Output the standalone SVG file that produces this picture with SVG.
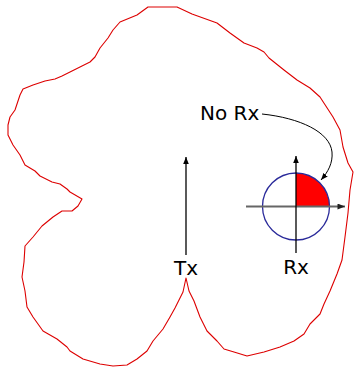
<svg xmlns="http://www.w3.org/2000/svg" width="354" height="367" viewBox="0 0 354 367">
<style>
.lbl{font-family:"DejaVu Sans",sans-serif;font-size:20px;fill:#000}
.reg{fill:none;stroke:#dd0000;stroke-width:1.1;stroke-linejoin:round}
</style>
<defs>
<marker id="ah" viewBox="0 0 10 8" refX="10" refY="4" markerWidth="7" markerHeight="6" markerUnits="userSpaceOnUse" orient="auto"><path d="M0,0 L10,4 L0,8 Z" fill="#000"/></marker>
<marker id="ahg" viewBox="0 0 10 8" refX="10" refY="4" markerWidth="8" markerHeight="6" markerUnits="userSpaceOnUse" orient="auto"><path d="M0,0 L10,4 L0,8 Z" fill="#222"/></marker>
</defs>
<g id="region">
<path class="reg" d="M148,7 L177,7 L192,14 L217,23 L230,33 L244,43 L257,48 L264,52 L269,58 L284,70 L297,80 L310,88 L320,97 L333,117 L340,130 L343,147 L348,163 L353,172 L350,190 L348,213 L345,237 L342,260 L337,274 L330,291 L324,304 L320,314 L310,324 L304,334 L294,341 L280,347 L264,352 L247,356 L234,352 L224,349 L217,341 L207,331 L200,317 L194,301 L189,291 L186,278 L183,292 L175,308 L170,317 L163,329 L153,341 L147,351 L137,359 L127,365 L113,366 L100,364 L83,359 L70,351 L67,347 L57,339 L43,331 L33,317 L27,307 L25,291 L22,277 L24,262 L25,246 L33,237 L42,226 L53,217 L62,211 L72,211 L78,206 L82,199 L70,192 L67,189 L60,184 L52,182 L40,176 L35,171 L30,168 L25,165 L20,155 L13,145 L8,135 L8,125 L10,117 L15,110 L20,95 L23,89 L33,85 L45,81 L55,79 L62,76 L70,72 L82,66 L90,62 L95,57 L100,48 L108,38 L113,30 L120,22 L137,15 Z"/>
</g>
<g id="tx">
<line x1="186" y1="255" x2="186" y2="157" stroke="#000" stroke-width="1.3" marker-end="url(#ah)"/>
<text class="lbl" x="186" y="275" text-anchor="middle">Tx</text>
</g>
<g id="rx">
<path d="M296,206.5 L296,173 A33.5,33.5 0 0 1 329.5,206.5 Z" fill="#ff0000"/>
<circle cx="296" cy="206.5" r="33.5" fill="none" stroke="#2a2a9a" stroke-width="1.3"/>
<line x1="246" y1="206.5" x2="345" y2="206.5" stroke="#666" stroke-width="2" marker-end="url(#ahg)"/>
<line x1="296" y1="253" x2="296" y2="156" stroke="#000" stroke-width="1.3" marker-end="url(#ah)"/>
<text class="lbl" x="296" y="274" text-anchor="middle">Rx</text>
</g>
<g id="norx">
<text class="lbl" x="200" y="120">No Rx</text>
</g>
<g id="connectors">
<path d="M262,114 C300,118 330,132 332,152 C333,163 328,172 321,180" fill="none" stroke="#000" stroke-width="1" marker-end="url(#ah)"/>
</g>
</svg>
